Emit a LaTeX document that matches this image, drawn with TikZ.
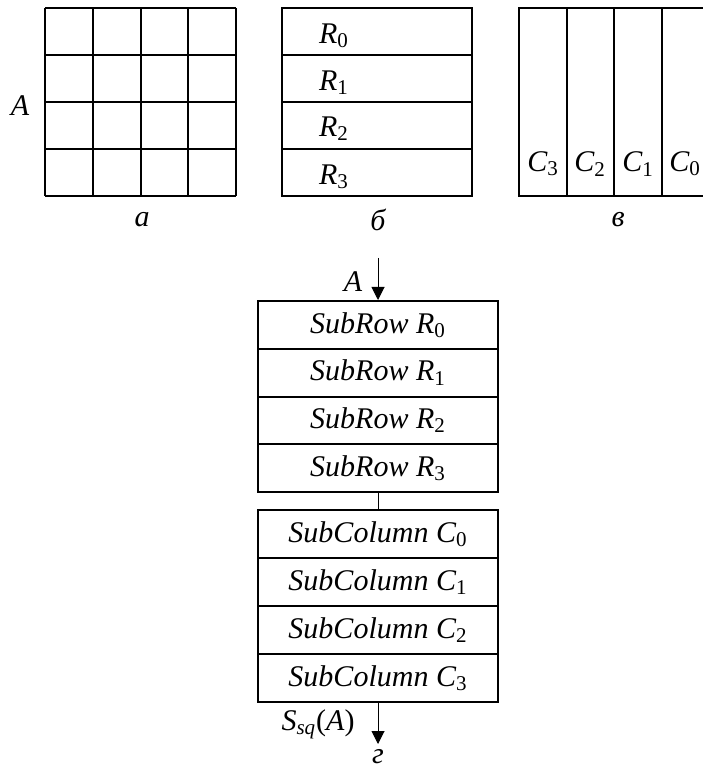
\documentclass[tikz,border=0pt]{standalone}
\usepackage{fontspec}
\setmainfont{Liberation Serif}
\usetikzlibrary{arrows.meta}
\newcommand\lowidx[1]{\textsubscript{\upshape #1}}
\begin{document}
\begin{tikzpicture}[x=0.5pt,y=-0.5pt,
  font=\fontsize{15}{18}\selectfont\itshape,
  frame/.style={line width=1pt},
  stage/.style={draw,line width=1pt,rectangle,minimum width=120pt,minimum height=23.9pt,inner sep=0pt},
  link/.style={line width=0.5pt},
  flow/.style={line width=0.5pt,-{Triangle[length=6.5pt,width=6.5pt]}},
  tag/.style={inner sep=0pt}]
\useasboundingbox (0,0) rectangle (702,769);

% (a) the 4x4 matrix A
\foreach \x in {45,92.75,140.5,188.25,236} \draw[frame] (\x,8) -- (\x,196);
\foreach \y in {8,55,102,149,196} \draw[frame] (45,\y) -- (236,\y);
\node[tag] (lblA) at (20,106) {A};
\node[tag] (capa) at (142,220) {а};

% (b) rows
\draw[frame] (282,8) rectangle (472,196);
\foreach \y in {55,102,149} \draw[frame] (282,\y) -- (472,\y);
\node[tag] (r0) at (334,36) {R\lowidx{0}};
\node[tag] (r1) at (334,83) {R\lowidx{1}};
\node[tag] (r2) at (334,129) {R\lowidx{2}};
\node[tag] (r3) at (334,177) {R\lowidx{3}};
\node[tag] (capb) at (378,220) {б};

% (c) columns
\draw[frame] (519,8) rectangle (709.5,196);
\foreach \x in {566.6,614.25,661.9} \draw[frame] (\x,8) -- (\x,196);
\node[tag] (c3) at (543,164) {C\lowidx{3}};
\node[tag] (c2) at (590,164) {C\lowidx{2}};
\node[tag] (c1) at (638,164) {C\lowidx{1}};
\node[tag] (c0) at (685,164) {C\lowidx{0}};
\node[tag] (capc) at (618,220) {в};

% (d) the round as a pipeline
\node[stage] (sr0) at (378,324.9) {SubRow R\lowidx{0}};
\node[stage] (sr1) at (378,372.6) {SubRow R\lowidx{1}};
\node[stage] (sr2) at (378,420.4) {SubRow R\lowidx{2}};
\node[stage] (sr3) at (378,468.1) {SubRow R\lowidx{3}};
\node[stage] (sc0) at (378,534) {SubColumn C\lowidx{0}};
\node[stage] (sc1) at (378,582) {SubColumn C\lowidx{1}};
\node[stage] (sc2) at (378,630) {SubColumn C\lowidx{2}};
\node[stage] (sc3) at (378,678) {SubColumn C\lowidx{3}};

\coordinate (in) at (378,258);
\coordinate (out) at (378,744);
\draw[flow] (in) -- (sr0.north);
\draw[link] (sr3.south) -- (sc0.north);
\draw[flow] (sc3.south) -- (out);

\node[tag] (inA) at (353,282) {A};
\node[tag] (outS) at (318,724) {S\textsubscript{sq}\upshape(\itshape A\upshape)};
\node[tag] (capd) at (378,757) {г};
\end{tikzpicture}
\end{document}
